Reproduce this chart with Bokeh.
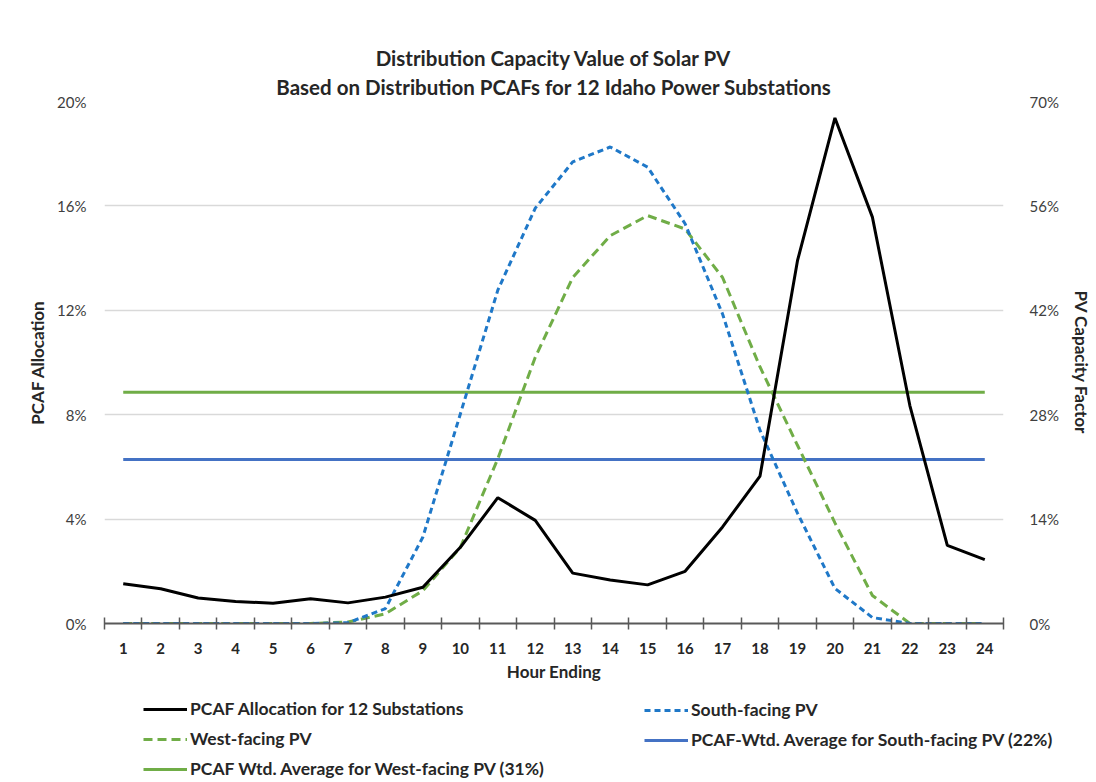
from bokeh.plotting import figure
from bokeh.layouts import column
from bokeh.models import (Range1d, LinearAxis, FixedTicker, PrintfTickFormatter,
                          Legend, LegendItem, Title)
from bokeh.embed import file_html
from bokeh.resources import INLINE

# ---------------- data ----------------
hours = list(range(1, 25))
pcaf_alloc = [1.52, 1.33, 0.98, 0.84, 0.78, 0.95, 0.79, 1.01, 1.39, 2.92, 4.82, 3.95,
              1.93, 1.67, 1.48, 2.0, 3.7, 5.65, 13.9, 19.37, 15.57, 8.35, 2.99, 2.45]
south_pv = [0, 0, 0, 0, 0, 0, 0.1, 2.0, 11.6, 28.1, 44.7, 55.7,
            61.9, 63.9, 61.2, 53.6, 41.5, 25.9, 14.8, 4.7, 0.8, 0, 0, 0]
west_pv = [0, 0, 0, 0, 0, 0, 0.2, 1.3, 4.4, 10.2, 22.1, 35.7,
           46.4, 52.0, 54.7, 52.9, 46.4, 34.4, 23.9, 13.5, 3.75, 0, 0, 0]
south_avg = 22
west_avg = 31
left_ticks = [0, 4, 8, 12, 16, 20]
right_ticks = [0, 14, 28, 42, 56, 70]
title_lines = ["Distribution Capacity Value of Solar PV",
               "Based on Distribution PCAFs for 12 Idaho Power Substations"]
labels = ["PCAF Allocation for 12 Substations", "South-facing PV", "West-facing PV",
          "PCAF-Wtd. Average for South-facing PV (22%)",
          "PCAF Wtd. Average for West-facing PV (31%)"]

FONT = "Lato"
BLACK = "#000000"
BLUE_D = "#1F78C8"
BLUE_S = "#4472C4"
GREEN = "#70AD47"
W = 1094

p = figure(width=W, height=690, output_backend="svg", toolbar_location=None,
           x_range=Range1d(0.5, 24.5), y_range=Range1d(0, 20),
           min_border_left=104, min_border_right=79, min_border_top=101,
           min_border_bottom=67)
p.outline_line_color = None
p.title = None
p.extra_y_ranges = {"right": Range1d(0, 70)}

# titles (line 2 first so it sits closest to the frame)
p.add_layout(Title(text=title_lines[1], align="center", text_font=FONT,
                   text_font_size="20.5px", text_font_style="bold",
                   text_color="#262626", standoff=6), "above")
p.add_layout(Title(text=title_lines[0], align="center", text_font=FONT,
                   text_font_size="20.5px", text_font_style="bold",
                   text_color="#262626", standoff=0), "above")

# x axis
xa = p.xaxis[0]
xa.ticker = FixedTicker(ticks=hours, minor_ticks=[h + 0.5 for h in range(0, 25)])
xa.major_tick_line_color = None
xa.minor_tick_in = 6
xa.minor_tick_out = 6
xa.minor_tick_line_color = "#595959"
xa.minor_tick_line_width = 1.5
xa.axis_line_color = "#595959"
xa.axis_line_width = 2
xa.major_label_text_font = FONT
xa.major_label_text_font_size = "15px"
xa.major_label_text_font_style = "bold"
xa.major_label_text_color = "#262626"
xa.major_label_standoff = 13
xa.axis_label = "Hour Ending"
xa.axis_label_text_font = FONT
xa.axis_label_text_font_size = "17px"
xa.axis_label_text_font_style = "bold"
xa.axis_label_text_color = "#262626"
xa.axis_label_standoff = 4

# left axis
ya = p.yaxis[0]
ya.ticker = FixedTicker(ticks=left_ticks)
ya.formatter = PrintfTickFormatter(format="%d%%")
ya.axis_line_color = None
ya.major_tick_line_color = None
ya.minor_tick_line_color = None
ya.major_label_text_font = FONT
ya.major_label_text_font_size = "15px"
ya.major_label_text_color = "#404040"
ya.major_label_standoff = 12
ya.axis_label = "PCAF Allocation"
ya.axis_label_text_font = FONT
ya.axis_label_text_font_size = "17px"
ya.axis_label_text_font_style = "bold"
ya.axis_label_text_color = "#262626"
ya.axis_label_standoff = 6

# right axis
ra = LinearAxis(y_range_name="right", ticker=FixedTicker(ticks=right_ticks),
                formatter=PrintfTickFormatter(format="%d%%"))
ra.axis_line_color = None
ra.major_tick_line_color = None
ra.minor_tick_line_color = None
ra.major_label_text_font = FONT
ra.major_label_text_font_size = "15px"
ra.major_label_text_color = "#404040"
ra.major_label_standoff = 20
ra.axis_label = "PV Capacity Factor"
ra.axis_label_text_font = FONT
ra.axis_label_text_font_size = "17px"
ra.axis_label_text_font_style = "bold"
ra.axis_label_text_color = "#262626"
ra.axis_label_standoff = 9
p.add_layout(ra, "right")

p.xgrid.grid_line_color = None
p.ygrid.grid_line_color = "#D9D9D9"
p.ygrid.grid_line_width = 1.5

# series
styles = {
    "green_avg": dict(line_color=GREEN, line_width=3),
    "blue_avg": dict(line_color=BLUE_S, line_width=3),
    "west": dict(line_color=GREEN, line_width=3, line_dash="9 5"),
    "south": dict(line_color=BLUE_D, line_width=3, line_dash="6 4"),
    "pcaf": dict(line_color=BLACK, line_width=3),
}
p.line(hours, [west_avg] * len(hours), y_range_name="right", **styles["green_avg"])
p.line(hours, [south_avg] * len(hours), y_range_name="right", **styles["blue_avg"])
p.line(hours, west_pv, y_range_name="right", **styles["west"])
p.line(hours, south_pv, y_range_name="right", **styles["south"])
p.line(hours, pcaf_alloc, **styles["pcaf"])

# legend strip below the chart
lf = figure(width=W, height=90, output_backend="svg", toolbar_location=None,
            x_range=Range1d(0, 1), y_range=Range1d(0, 1),
            min_border_left=104, min_border_right=0, min_border_top=0,
            min_border_bottom=0)
lf.frame_align = False
lf.axis.visible = False
lf.grid.visible = False
lf.outline_line_color = None
# proxy renderers, kept outside the visible range; they only supply legend swatches
lr = {k: lf.line([0, 1], [-2, -2], **v) for k, v in styles.items()}

common = dict(orientation="vertical", background_fill_alpha=0, border_line_color=None,
              padding=0, margin=0, spacing=9, glyph_width=44, glyph_height=20,
              label_height=20, label_standoff=3, label_text_font=FONT,
              label_text_font_size="17.5px", label_text_font_style="bold",
              label_text_color="#262626")
lg1 = Legend(items=[LegendItem(label=labels[0], renderers=[lr["pcaf"]]),
                    LegendItem(label=labels[2], renderers=[lr["west"]]),
                    LegendItem(label=labels[4], renderers=[lr["green_avg"]])],
             location=(39, 1), **common)
lg2 = Legend(items=[LegendItem(label=labels[1], renderers=[lr["south"]]),
                    LegendItem(label=labels[3], renderers=[lr["blue_avg"]])],
             location=(540, 30), **common)
lf.add_layout(lg1, "center")
lf.add_layout(lg2, "center")

layout = column(p, lf, spacing=0)
open("out.html", "w").write(file_html(layout, INLINE))
